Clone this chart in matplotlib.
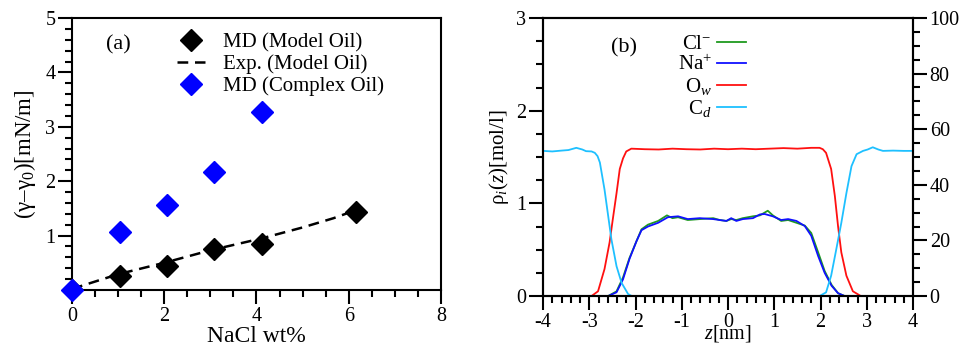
import matplotlib
matplotlib.use("Agg")
import matplotlib.pyplot as plt
from matplotlib.ticker import MultipleLocator, FixedLocator

# ---- panel (a): interfacial tension vs salt ----
nacl_md = [0.0, 1.03, 2.05, 3.08, 4.12, 6.16]
gamma_md = [0.0, 0.26, 0.45, 0.75, 0.84, 1.44]

nacl_exp = [0.0, 1.0, 2.0, 3.0, 4.12, 5.0, 5.67, 6.16]
gamma_exp = [0.02, 0.29, 0.5, 0.73, 0.95, 1.15, 1.32, 1.47]

nacl_cx = [0.0, 1.03, 2.05, 3.08, 4.12]
gamma_cx = [0.0, 1.07, 1.56, 2.17, 3.27]

# ---- panel (b): density profiles ----
z_cl = [-2.59, -2.41, -2.27, -2.13, -1.98, -1.87, -1.73, -1.51, -1.32, -1.20,
        -1.08, -0.87, -0.61, -0.32, -0.18, -0.035, 0.07, 0.18, 0.32, 0.54,
        0.69, 0.86, 0.97, 1.15, 1.30, 1.48, 1.66, 1.80, 1.95, 2.09, 2.24,
        2.38, 2.52]
rho_cl = [0.0, 0.05, 0.20, 0.41, 0.59, 0.72, 0.77, 0.81, 0.87, 0.84,
          0.85, 0.82, 0.83, 0.84, 0.82, 0.81, 0.83, 0.82, 0.84, 0.86,
          0.87, 0.92, 0.87, 0.81, 0.82, 0.79, 0.76, 0.68, 0.47, 0.27, 0.12,
          0.03, 0.0]

z_na = [-2.59, -2.41, -2.27, -2.13, -1.98, -1.87, -1.73, -1.51, -1.30, -1.08,
        -0.87, -0.61, -0.32, -0.18, -0.035, 0.07, 0.18, 0.32, 0.54, 0.69,
        0.79, 0.97, 1.15, 1.30, 1.48, 1.66, 1.80, 1.95, 2.09, 2.24, 2.38,
        2.52]
rho_na = [0.0, 0.04, 0.18, 0.40, 0.59, 0.71, 0.75, 0.79, 0.85, 0.86,
          0.83, 0.84, 0.83, 0.82, 0.81, 0.84, 0.81, 0.83, 0.84, 0.88,
          0.885, 0.86, 0.82, 0.83, 0.81, 0.755, 0.65, 0.43, 0.25, 0.11, 0.03,
          0.0]

# water oxygen and decane carbon, right axis
z_ow = [-2.95, -2.81, -2.67, -2.56, -2.49, -2.41, -2.34, -2.27, -2.20, -2.09,
        -1.8, -1.5, -1.2, -0.9, -0.6, -0.3, 0.0, 0.3, 0.6, 0.9, 1.2, 1.5, 1.8,
        1.98, 2.05, 2.12, 2.23, 2.31, 2.38, 2.45, 2.56, 2.70, 2.87]
rho_ow = [0.0, 1.7, 9.7, 19.3, 27.7, 37.0, 45.7, 49.5, 52.0, 53.0,
          52.8, 52.7, 53.0, 52.8, 52.7, 53.0, 52.8, 53.0, 52.8, 53.0, 53.2,
          53.0, 53.3, 53.3, 52.8, 51.5, 45.7, 36.0, 25.0, 15.7, 7.3, 1.7, 0.0]

z_cd = [-4.0, -3.8, -3.6, -3.45, -3.28, -3.15, -3.07, -2.95, -2.88, -2.82,
        -2.77, -2.67, -2.59, -2.52, -2.41, -2.30, -2.16, -2.08,
        1.98, 2.12, 2.23, 2.34, 2.45, 2.56, 2.67, 2.78, 2.92, 3.02, 3.13,
        3.25, 3.35, 3.57, 3.8, 4.0]
rho_cd = [52.2, 52.0, 52.3, 52.5, 53.3, 52.7, 52.1, 52.0, 51.5, 50.3,
          48.0, 38.3, 28.7, 20.3, 10.7, 4.7, 0.7, 0.0,
          0.0, 1.3, 7.3, 16.7, 26.3, 37.0, 46.7, 51.0, 52.2, 52.7, 53.5,
          52.7, 52.2, 52.3, 52.2, 52.2]
# the decane profile is two separate pieces
n_cd_left = 18

plt.rcParams["font.family"] = "Liberation Serif"
plt.rcParams["mathtext.fontset"] = "custom"
plt.rcParams["mathtext.rm"] = "Liberation Serif"
plt.rcParams["mathtext.it"] = "Liberation Serif:italic"
plt.rcParams["axes.unicode_minus"] = False
plt.rcParams["axes.linewidth"] = 1.5
plt.rcParams["xtick.direction"] = "out"
plt.rcParams["ytick.direction"] = "out"


def style_ticks(ax, axis="both"):
    ax.tick_params(axis=axis, which="major", length=10, width=1.5,
                   labelsize=14.5, pad=2)
    ax.tick_params(axis=axis, which="minor", length=5, width=1.5)


fig = plt.figure(figsize=(9.7, 3.46), dpi=100)

# Panel (a)
ax1 = fig.add_axes([72 / 970, 1 - 290 / 346, 369 / 970, 272 / 346])
ax1.plot(nacl_exp, gamma_exp, color="black", lw=1.8, dashes=(4.3, 2.7),
         label="Exp. (Model Oil)", zorder=2)
ax1.plot(nacl_md, gamma_md, "D", color="black", ms=11, ls="none",
         label="MD (Model Oil)", zorder=3)
ax1.plot(nacl_cx, gamma_cx, "D", color="#0000ff", ms=11, ls="none",
         label="MD (Complex Oil)", zorder=4, clip_on=False)
ax1.set_xlim(0, 8)
ax1.set_ylim(0, 5)
ax1.xaxis.set_major_locator(MultipleLocator(2))
ax1.xaxis.set_minor_locator(MultipleLocator(0.5))
ax1.yaxis.set_major_locator(FixedLocator([1, 2, 3, 4, 5]))
ax1.yaxis.set_minor_locator(FixedLocator([0.2 * i for i in range(1, 25) if i % 5]))
style_ticks(ax1)
ax1.set_xlabel("NaCl wt%", fontsize=17, labelpad=0)
ax1.set_ylabel("(γ–γ$_0$)[mN/m]", fontsize=16.5, labelpad=5)
ax1.text(0.125, 0.90, "(a)", transform=ax1.transAxes, fontsize=16,
         ha="center", va="center")
h, l = ax1.get_legend_handles_labels()
order = [1, 0, 2]
ax1.legend([h[i] for i in order], [l[i] for i in order], loc="upper left",
           bbox_to_anchor=(0.285, 0.945), frameon=False, fontsize=15,
           handlelength=1.35, handletextpad=0.87, labelspacing=0.1,
           borderpad=0, borderaxespad=0)

# Panel (b)
ax2 = fig.add_axes([543 / 970, 1 - 296 / 346, 370 / 970, 278 / 346])
ax3 = ax2.twinx()
l_cl, = ax2.plot(z_cl, rho_cl, color="#1f9a1f", lw=1.3, label="Cl$^{-}$")
l_na, = ax2.plot(z_na, rho_na, color="#1010ff", lw=1.3, label="Na$^{+}$")
l_ow, = ax3.plot(z_ow, rho_ow, color="#ff1010", lw=1.3, label="O$_{w}$")
l_cd, = ax3.plot(z_cd[:n_cd_left], rho_cd[:n_cd_left], color="#1ec0ff", lw=1.3,
                 label="C$_{d}$")
ax3.plot(z_cd[n_cd_left:], rho_cd[n_cd_left:], color="#1ec0ff", lw=1.3)
ax2.set_xlim(-4, 4)
ax2.set_ylim(0, 3)
ax3.set_ylim(0, 100)
ax2.xaxis.set_major_locator(MultipleLocator(1))
ax2.xaxis.set_minor_locator(MultipleLocator(0.2))
ax2.yaxis.set_major_locator(MultipleLocator(1))
ax2.yaxis.set_minor_locator(MultipleLocator(0.25))
ax3.yaxis.set_major_locator(MultipleLocator(20))
ax3.yaxis.set_minor_locator(MultipleLocator(5))
style_ticks(ax2)
style_ticks(ax3, "y")
ax2.set_xlabel("$z$[nm]", fontsize=14.5, labelpad=-6)
ax2.set_ylabel("ρ$_{i}$($z$)[mol/l]", fontsize=15, labelpad=4)
ax2.text(0.219, 0.892, "(b)", transform=ax2.transAxes, fontsize=16,
         ha="center", va="center")
ax3.legend([l_cl, l_na, l_ow, l_cd], [l.get_label() for l in (l_cl, l_na, l_ow, l_cd)],
           loc="upper right", bbox_to_anchor=(0.549, 0.94), frameon=False,
           fontsize=15, markerfirst=False, handlelength=1.4,
           handletextpad=0.25, labelspacing=0.05, borderpad=0, borderaxespad=0)

fig.savefig("out.png", dpi=100)
